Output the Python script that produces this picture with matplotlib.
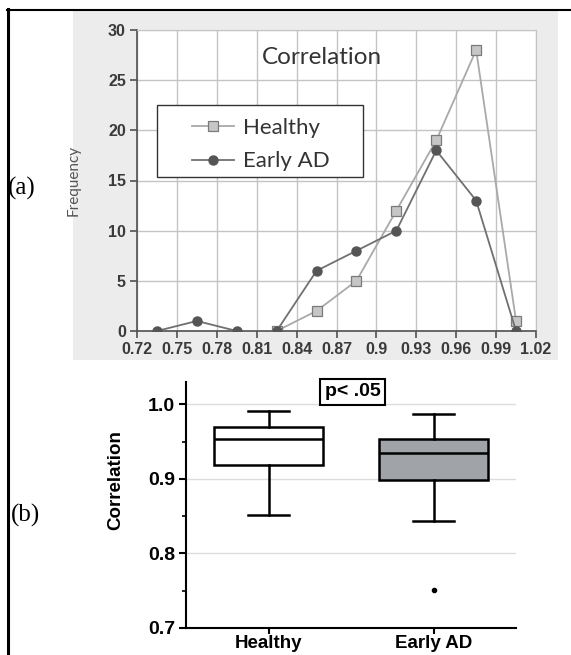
import numpy as np
import matplotlib
matplotlib.use('Agg')
import matplotlib.pyplot as plt
from matplotlib.patches import Rectangle
from matplotlib.lines import Line2D

# Dades del panell (a): histograma de correlacions (centres de classe)
bin_centers  = [0.735, 0.765, 0.795, 0.825, 0.855, 0.885, 0.915, 0.945, 0.975, 1.005]
healthy_x    = [0.825, 0.855, 0.885, 0.915, 0.945, 0.975, 1.005]
healthy_freq = [0, 2, 5, 12, 19, 28, 1]
early_freq   = [0, 1, 0, 0, 6, 8, 10, 18, 13, 0]
x_ticks      = [0.72, 0.75, 0.78, 0.81, 0.84, 0.87, 0.9, 0.93, 0.96, 0.99, 1.02]
x_ticklabels = ['0.72', '0.75', '0.78', '0.81', '0.84', '0.87', '0.9', '0.93', '0.96', '0.99', '1.02']
y_ticks_a    = [0, 5, 10, 15, 20, 25, 30]

# Dades del panell (b): estadístics dels diagrames de caixa
groups   = ['Healthy', 'Early AD']
whislo   = [0.852, 0.844]
q1       = [0.918, 0.898]
med      = [0.953, 0.935]
q3       = [0.970, 0.954]
whishi   = [0.9915, 0.9875]
fliers   = [[], [0.751]]
box_fill = ['white', '#a0a3a8']

fig = plt.figure(figsize=(5.71, 6.55), dpi=100)
W, H = 571, 655

def fx(px):
    return px / W

def fy(py):
    return 1 - py / H

# Marc negre de la cel·la i fons gris del panell (a)
fig.add_artist(Line2D([fx(7.5), fx(7.5)], [fy(9), 0], color='black', lw=2.2,
                      transform=fig.transFigure))
fig.add_artist(Line2D([fx(7), 1], [fy(9.5), fy(9.5)], color='black', lw=1.5,
                      transform=fig.transFigure))
fig.add_artist(Rectangle((fx(73), fy(360)), fx(558) - fx(73), fy(10.5) - fy(360),
                         transform=fig.transFigure, facecolor='#ececec',
                         edgecolor='none', zorder=0))

# Panell (a)
ax1 = fig.add_axes([fx(137), fy(331), fx(536) - fx(137), fy(30) - fy(331)])
ax1.set_facecolor('white')
ax1.plot(healthy_x, healthy_freq, color='#a9a9a9', lw=1.3, marker='s', markersize=6.5,
         markerfacecolor='#c6c6c6', markeredgecolor='#7a7a7a', markeredgewidth=0.9,
         label='Healthy', zorder=3)
ax1.plot(bin_centers, early_freq, color='#707070', lw=1.3, marker='o', markersize=6.5,
         markerfacecolor='#555555', markeredgecolor='#555555',
         label='Early AD', zorder=4)
ax1.set_xlim(0.72, 1.02)
ax1.set_ylim(0, 30)
ax1.set_xticks(x_ticks)
ax1.set_xticklabels(x_ticklabels)
ax1.set_yticks(y_ticks_a)
ax1.grid(True, color='#c4c4c4', lw=1.0)
ax1.set_axisbelow(True)
for side in ['top', 'right']:
    ax1.spines[side].set_color('#c4c4c4')
for side in ['left', 'bottom']:
    ax1.spines[side].set_color('#505050')
    ax1.spines[side].set_linewidth(1.2)
ax1.tick_params(direction='out', length=5, width=1.2, color='#505050',
                labelcolor='#3a3a3a', pad=3)
for lab in ax1.get_xticklabels() + ax1.get_yticklabels():
    lab.set_fontfamily('Liberation Sans')
    lab.set_fontweight('bold')
    lab.set_fontsize(11.5)
ax1.set_ylabel('Frequency', fontsize=11, color='#555555', fontfamily='Lato')
ax1.yaxis.set_label_coords((81 - 137) / 399, 0.5)
ax1.text((322 - 137) / 399, 0.908, 'Correlation', transform=ax1.transAxes,
         ha='center', va='center', fontsize=17.5, color='#333333', fontfamily='Lato')

# Llegenda amb marc propi (farciment horitzontal més ample que el vertical)
ax1.add_patch(Rectangle(((157 - 137) / 399, (331 - 177) / 301), (363 - 157) / 399,
                        (177 - 105) / 301, transform=ax1.transAxes, facecolor='white',
                        edgecolor='#333333', lw=1.0, zorder=5))
leg = ax1.legend(loc='upper left', bbox_to_anchor=((192 - 137) / 399, (331 - 118) / 301),
                 prop={'family': 'Lato', 'size': 16}, frameon=False,
                 handlelength=1.9, borderpad=0, labelspacing=0.6,
                 handletextpad=0.4, borderaxespad=0)
leg.set_zorder(6)
for t in leg.get_texts():
    t.set_color('#333333')

# Panell (b)
ax2 = fig.add_axes([fx(186), fy(628), fx(516) - fx(186), fy(382) - fy(628)])
stats = []
for i, g in enumerate(groups):
    stats.append({'label': g, 'whislo': whislo[i], 'q1': q1[i], 'med': med[i],
                  'q3': q3[i], 'whishi': whishi[i], 'fliers': fliers[i]})
bp = ax2.bxp(stats, positions=[1, 2], widths=0.66, patch_artist=True,
             boxprops=dict(lw=1.8, edgecolor='black'),
             medianprops=dict(color='black', lw=1.8),
             whiskerprops=dict(color='black', lw=1.8),
             capprops=dict(color='black', lw=1.8),
             flierprops=dict(marker='o', markersize=3, markerfacecolor='black',
                             markeredgecolor='black'),
             capwidths=0.25)
for patch, c in zip(bp['boxes'], box_fill):
    patch.set_facecolor(c)
ax2.set_xlim(0.5, 2.5)
ax2.set_ylim(0.7, 1.03)
ax2.set_yticks([0.7, 0.8, 0.9, 1.0])
ax2.set_yticks([0.75, 0.85, 0.95], minor=True)
ax2.set_yticklabels(['0.7', '0.8', '0.9', '1.0'])
for yv in [0.8, 0.9, 1.0]:
    ax2.axhline(yv, color='#dcdcdc', lw=1.0, zorder=0)
ax2.spines['top'].set_visible(False)
ax2.spines['right'].set_visible(False)
ax2.spines['left'].set_linewidth(1.5)
ax2.spines['bottom'].set_linewidth(1.5)
ax2.tick_params(axis='y', which='major', direction='out', length=5, width=1.5, pad=3)
ax2.tick_params(axis='x', which='major', direction='out', length=4, width=1.5, pad=1)
ax2.tick_params(axis='y', which='minor', direction='out', length=3, width=1.2)
for lab in ax2.get_yticklabels():
    lab.set_fontfamily('Liberation Sans')
    lab.set_fontweight('bold')
    lab.set_fontsize(14)
for lab in ax2.get_xticklabels():
    lab.set_fontfamily('Liberation Sans')
    lab.set_fontweight('bold')
    lab.set_fontsize(13.5)
ax2.set_ylabel('Correlation', fontfamily='Liberation Sans', fontweight='bold',
               fontsize=13.5)
ax2.yaxis.set_label_coords((124 - 186) / 330, 0.6)
ax2.text(1.509, 1.0167, 'p< .05', ha='center', va='center', fontfamily='Liberation Sans',
         fontweight='bold', fontsize=14,
         bbox=dict(boxstyle='square,pad=0.25', facecolor='white', edgecolor='black', lw=1.5))

# Etiquetes dels panells
fig.text(fx(8), fy(188), '(a)', fontfamily='Liberation Serif', fontsize=18, va='center')
fig.text(fx(11), fy(515), '(b)', fontfamily='Liberation Serif', fontsize=18, va='center')

fig.savefig('out.png', dpi=100)
